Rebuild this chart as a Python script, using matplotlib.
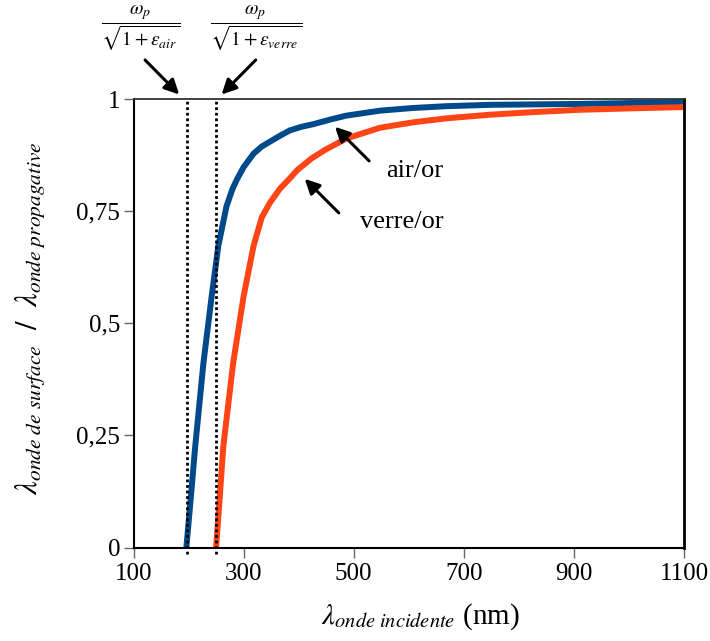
import matplotlib
matplotlib.use('Agg')
import matplotlib.pyplot as plt

plt.rcParams['font.family'] = ['Liberation Serif', 'DejaVu Serif']
plt.rcParams['mathtext.fontset'] = 'stix'

# ratio lambda_sp / lambda_0 for gold against air and against glass
air_x = [196, 204, 212, 227, 242, 254, 269, 280, 288, 300, 318, 333, 348, 366,
         384, 405, 427, 460, 487, 548, 608, 669, 748, 830, 911, 1000, 1100]
air_y = [0, 0.11, 0.224, 0.411, 0.56, 0.672, 0.761, 0.80, 0.821, 0.848, 0.878,
         0.894, 0.905, 0.918, 0.930, 0.938, 0.944, 0.955, 0.963, 0.974, 0.980,
         0.984, 0.987, 0.988, 0.989, 0.991, 0.993]

verre_x = [250, 256, 263, 281, 300, 318, 333, 348, 366, 384, 397, 424, 450, 487,
           548, 608, 669, 748, 830, 911, 1000, 1100]
verre_y = [0, 0.10, 0.224, 0.411, 0.56, 0.672, 0.736, 0.769, 0.800, 0.823, 0.841,
           0.868, 0.888, 0.912, 0.936, 0.948, 0.957, 0.965, 0.971, 0.976, 0.979,
           0.982]

# plasma cut-off wavelengths
cutoff_air = 198
cutoff_verre = 250

xticks = [100, 300, 500, 700, 900, 1100]
yticks = [0, 0.25, 0.5, 0.75, 1]
ytick_labels = ['0', '0,25', '0,5', '0,75', '1']

fig = plt.figure(figsize=(7.10, 6.41), dpi=100)
ax = fig.add_axes([133.5 / 710, 1 - 547.5 / 641, 550.5 / 710, 448.5 / 641])

ax.plot(air_x, air_y, color='#004a8c', lw=4.3, solid_joinstyle='round',
        solid_capstyle='butt', zorder=2)
ax.plot(verre_x, verre_y, color='#ff4515', lw=4.3, solid_joinstyle='round',
        solid_capstyle='butt', zorder=2)

for xc in (cutoff_air, cutoff_verre):
    ax.plot([xc, xc], [-0.015, 1], color='k', lw=2.0, ls=(0, (1, 1)),
            zorder=3, clip_on=False)

ax.set_xlim(100, 1100)
ax.set_ylim(0, 1)
ax.set_xticks(xticks)
ax.set_xticklabels([str(v) for v in xticks])
ax.set_yticks(yticks)
ax.set_yticklabels(ytick_labels)
ax.tick_params(axis='both', direction='out', length=7.5, width=1.0,
               color='#666666', labelsize=18)
ax.tick_params(axis='x', pad=4)
ax.tick_params(axis='y', pad=2)

for side in ('left', 'bottom'):
    ax.spines[side].set_linewidth(1.5)
    ax.spines[side].set_color('k')
ax.spines['top'].set_linewidth(1.3)
ax.spines['top'].set_color('#333333')
ax.spines['right'].set_linewidth(2.0)
ax.spines['right'].set_color('k')

# curve labels
arrow = dict(arrowstyle='-|>', lw=2.2, color='k', mutation_scale=22,
             shrinkA=0, shrinkB=0)
ax.annotate('', xy=(466, 0.938), xytext=(528, 0.862), arrowprops=arrow)
ax.text(611, 0.840, 'air/or', fontsize=19, ha='center', va='center')
ax.annotate('', xy=(411, 0.822), xytext=(473, 0.746), arrowprops=arrow)
ax.text(587, 0.725, 'verre/or', fontsize=19, ha='center', va='center')

# cut-off annotations above the axes
ax.annotate('', xy=(183, 1.010), xytext=(121, 1.087), arrowprops=arrow,
            annotation_clip=False)
ax.annotate('', xy=(260, 1.010), xytext=(322, 1.087), arrowprops=arrow,
            annotation_clip=False)
ax.text(112, 1.158, r'$\dfrac{\omega_p}{\sqrt{1+\varepsilon_{air}}}$',
        fontsize=14, ha='center', va='center', clip_on=False)
ax.text(322, 1.158, r'$\dfrac{\omega_p}{\sqrt{1+\varepsilon_{verre}}}$',
        fontsize=14, ha='center', va='center', clip_on=False)

fig.text(31 / 710, 1 - 318 / 641,
         r'$\lambda_{onde\ de\ surface}\ \ /\ \ \lambda_{onde\ propagative}$',
         fontsize=22, rotation=90, ha='center', va='center')
fig.text(420 / 710, 1 - 617 / 641,
         r'$\lambda_{onde\ incidente}$ (nm)',
         fontsize=21, ha='center', va='center')

fig.savefig('out.png', dpi=100)
